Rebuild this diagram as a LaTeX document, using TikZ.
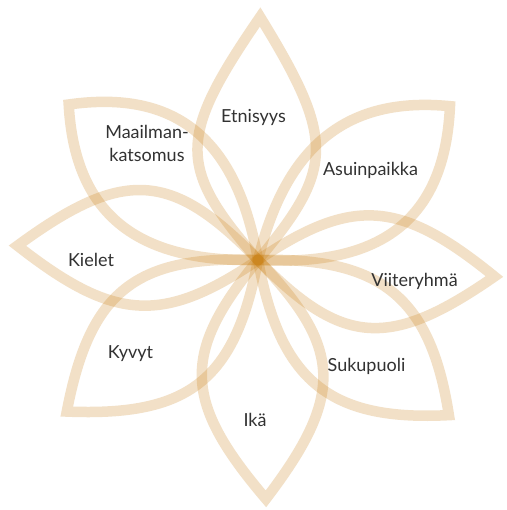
\documentclass[tikz,border=0pt]{standalone}
\usepackage{fontspec}
\setmainfont{Lato}
\definecolor{petalc}{RGB}{198,118,0}
\definecolor{txt}{RGB}{50,50,50}
\tikzset{
  petal/.style={draw=petalc, draw opacity=0.22, line width=10.5pt, miter limit=4},
  lbl/.style={font=\fontsize{18}{23}\selectfont, text=txt, inner sep=0pt, anchor=base, align=center}
}
% \petalpath{angle}{length}{h left}{h right}{a}{b}
\newcommand{\petalpath}[6]{%
  \begin{scope}[shift={(258,250)}, rotate=#1]
    \draw[petal] (0,0) .. controls ({#5*#2},{#3}) and ({#2-#6*#2},{#3}) .. (#2,0)
      .. controls ({#2-#6*#2},{-#4}) and ({#5*#2},{-#4}) .. cycle;
  \end{scope}}
\begin{document}
\begin{tikzpicture}[x=1pt,y=1pt]
  \useasboundingbox[fill=white] (0,0) rectangle (506,510);
  \petalpath{89.5}{243}{82}{76}{0.38}{0.5}
  \petalpath{38.7}{246}{72}{84}{0.38}{0.3}
  \petalpath{-4}{237}{70}{80}{0.38}{0.42}
  \petalpath{-39.1}{246}{80}{80}{0.38}{0.36}
  \petalpath{-88.1}{239}{82}{80}{0.38}{0.42}
  \petalpath{218.4}{244}{80}{80}{0.38}{0.38}
  \petalpath{176.6}{241}{70}{84}{0.38}{0.42}
  \petalpath{140.6}{245}{80}{80}{0.38}{0.3}
  \node[lbl] (etn) at (253.5,387) {Etnisyys};
  \node[lbl] (asu) at (370.5,334) {Asuinpaikka};
  \node[lbl] (vii) at (414.5,223) {Viiteryhmä};
  \node[lbl] (suk) at (366.5,138) {Sukupuoli};
  \node[lbl] (ika) at (255,83) {Ikä};
  \node[lbl] (kyv) at (130.5,151) {Kyvyt};
  \node[lbl] (kie) at (91,243) {Kielet};
  \node[lbl] (maa) at (147,348) {Maailman-\\katsomus};
\end{tikzpicture}
\end{document}
